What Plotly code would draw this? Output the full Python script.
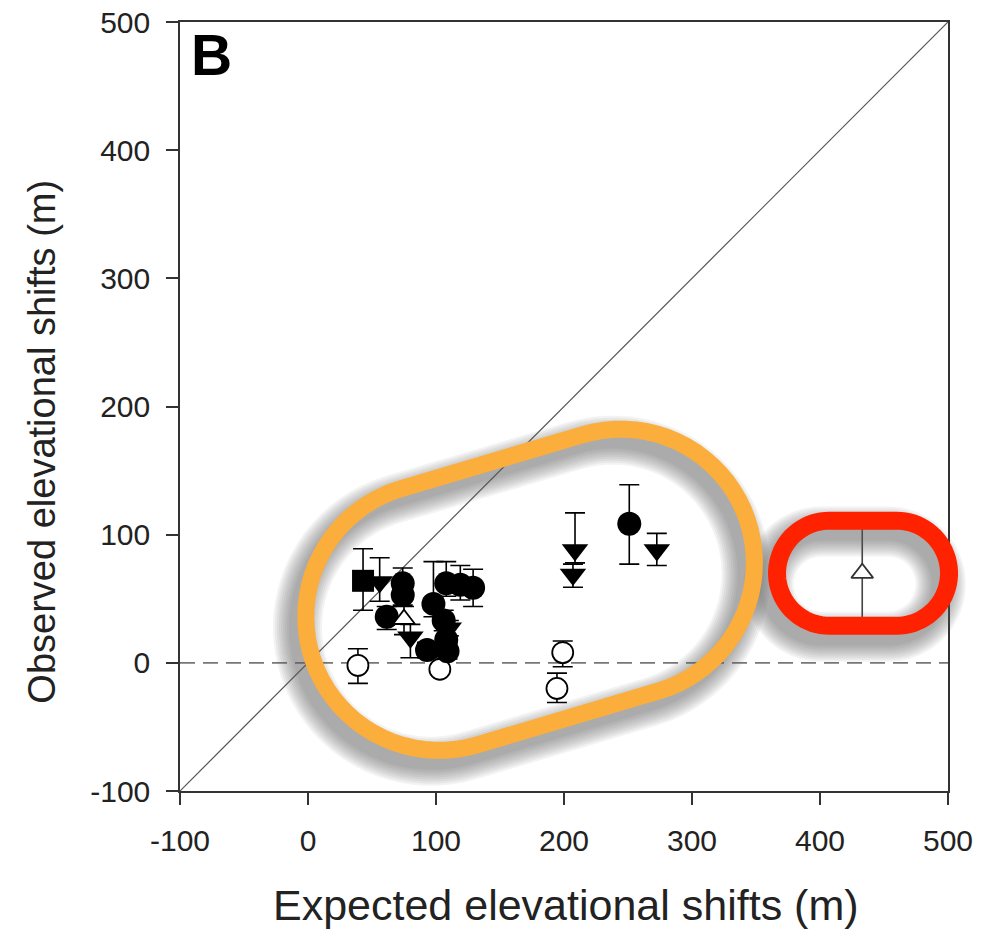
import numpy as np
import plotly.graph_objects as go

# ---- data ----
circ_x = [74, 74, 61.5, 98, 106, 108, 93, 109, 108, 119, 129, 251]
circ_y = [62, 53, 36, 46, 33, 18, 10, 9, 62, 61, 58.5, 108.6]
circ_ep = [12, 8, 8, 33, 8, 8, 6, 6, 17, 15, 14.5, 30.4]
circ_em = [10, 8, 10, 10, 8, 8, 6, 6, 10, 12, 14.5, 31.6]

tri_x = [56, 80, 110, 208.6, 207, 272.5]
tri_y = [63, 20, 27, 88, 69, 88]
tri_ep = [19, 10, 6, 29, 8, 13]
tri_em = [15, 16, 6, 10, 10, 12]

sq_x = [43]
sq_y = [64]
sq_ep = [25]
sq_em = [23]

ocirc_x = [39, 103, 199, 194.5]
ocirc_y = [-2, -5, 8, -20]
ocirc_ep = [13, 3, 9, 12]
ocirc_em = [14, 3, 11, 11]

otri_x = [75]
otri_y = [34]
otri_ep = [10]
otri_em = [12]

otri2_x = [433]
otri2_y = [70]
otri2_ep = [35]
otri2_em = [35]

axis_range = [-100, 500]
tick_vals = [-100, 0, 100, 200, 300, 400, 500]
tick_text = ["-100", "0", "100", "200", "300", "400", "500"]

W, H = 998, 929
ML, MR, MT, MB = 180, 50, 22, 138

fig = go.Figure()

# 1:1 line and zero line
fig.add_trace(go.Scatter(x=axis_range, y=axis_range, mode="lines",
                         line=dict(color="#555555", width=1.2), hoverinfo="skip", showlegend=False))
fig.add_trace(go.Scatter(x=axis_range, y=[0, 0], mode="lines",
                         line=dict(color="#777777", width=1.6, dash="15px,8px"), hoverinfo="skip", showlegend=False))


def eb(ep, em, color="black"):
    return dict(type="data", symmetric=False, array=ep, arrayminus=em,
                color=color, thickness=1.6, width=10)


fig.add_trace(go.Scatter(x=ocirc_x, y=ocirc_y, mode="markers", error_y=eb(ocirc_ep, ocirc_em),
                         marker=dict(symbol="circle", size=21, color="white",
                                     line=dict(color="black", width=1.8)), showlegend=False))
fig.add_trace(go.Scatter(x=otri2_x, y=otri2_y, mode="markers", error_y=eb(otri2_ep, otri2_em, "#444444"),
                         marker=dict(symbol="triangle-up", size=19, color="white",
                                     line=dict(color="#333333", width=1.8)), showlegend=False))
fig.add_trace(go.Scatter(x=sq_x, y=sq_y, mode="markers", error_y=eb(sq_ep, sq_em),
                         marker=dict(symbol="square", size=22, color="black"), showlegend=False))
fig.add_trace(go.Scatter(x=tri_x, y=tri_y, mode="markers", error_y=eb(tri_ep, tri_em),
                         marker=dict(symbol="triangle-down", size=23, color="black"), showlegend=False))
fig.add_trace(go.Scatter(x=circ_x, y=circ_y, mode="markers", error_y=eb(circ_ep, circ_em),
                         marker=dict(symbol="circle", size=24, color="black"), showlegend=False))
fig.add_trace(go.Scatter(x=otri_x, y=otri_y, mode="markers", error_y=eb(otri_ep, otri_em),
                         marker=dict(symbol="triangle-up", size=19, color="white",
                                     line=dict(color="black", width=1.8)), showlegend=False))


# ---- highlight capsules (annotation decoration) ----
def to_paper(x, y):
    span = axis_range[1] - axis_range[0]
    return (x - axis_range[0]) / span, (y - axis_range[0]) / span


def capsule_path(cx, cy, ang_deg, half_len, rad, dx=0.0, dy=0.0):
    a = np.deg2rad(ang_deg)
    ux, uy = np.cos(a), np.sin(a)
    rc = (cx + half_len * ux + dx, cy + half_len * uy + dy)
    lc = (cx - half_len * ux + dx, cy - half_len * uy + dy)
    pts = []
    for t in np.linspace(a - np.pi / 2, a + np.pi / 2, 40):
        pts.append((rc[0] + rad * np.cos(t), rc[1] + rad * np.sin(t)))
    for t in np.linspace(a + np.pi / 2, a + 3 * np.pi / 2, 40):
        pts.append((lc[0] + rad * np.cos(t), lc[1] + rad * np.sin(t)))
    s = ""
    for i, (x, y) in enumerate(pts):
        px, py = to_paper(x, y)
        s += ("M" if i == 0 else "L") + f"{px:.5f},{py:.5f} "
    return s + "Z"


capsules = [
    dict(c=(173.5, 57.0), ang=16.5, L=74.0, R=104.3, w=17, color="#FBAE3C"),
    dict(c=(433.6, 69.9), ang=0.0, L=26.2, R=41.0, w=18, color="#FF2200"),
]
shapes = []
for cap in capsules:
    for k in range(9):
        shapes.append(dict(type="path", xref="paper", yref="paper", layer="above",
                           path=capsule_path(cap["c"][0], cap["c"][1], cap["ang"], cap["L"], cap["R"], -6.5, -8.5),
                           line=dict(color="rgba(95,95,95,0.075)", width=cap["w"] + 4 * k)))
for cap in capsules:
    shapes.append(dict(type="path", xref="paper", yref="paper", layer="above",
                       path=capsule_path(cap["c"][0], cap["c"][1], cap["ang"], cap["L"], cap["R"]),
                       line=dict(color=cap["color"], width=cap["w"])))

font_family = "Liberation Sans, Arial, Helvetica, sans-serif"
axis_common = dict(range=axis_range, tickvals=tick_vals, ticktext=tick_text, ticks="outside",
                   ticklen=12, tickwidth=1.5, tickcolor="#333333", showline=True, linecolor="#333333",
                   linewidth=1.5, mirror=True, showgrid=False, zeroline=False, automargin=False,
                   ticklabelstandoff=10, ticklabeloverflow="allow",
                   tickfont=dict(size=30, color="#222222", family=font_family))

fig.update_layout(
    width=W, height=H, margin=dict(l=ML, r=MR, t=MT, b=MB),
    paper_bgcolor="white", plot_bgcolor="white",
    font=dict(family=font_family, color="#222222"),
    xaxis=dict(**axis_common),
    yaxis=dict(**axis_common),
    shapes=shapes,
    annotations=[
        dict(text="<b>B</b>", xref="paper", yref="paper", x=0.012, y=0.957,
             xanchor="left", yanchor="middle", showarrow=False,
             font=dict(size=57, color="black", family=font_family)),
        dict(text="Expected elevational shifts (m)", xref="paper", yref="paper", x=0.502, y=-0.148,
             xanchor="center", yanchor="middle", showarrow=False,
             font=dict(size=43, color="#222222", family=font_family)),
        dict(text="Observed elevational shifts (m)", xref="paper", yref="paper", x=-0.18, y=0.454,
             xanchor="center", yanchor="middle", showarrow=False, textangle=-90,
             font=dict(size=38, color="#222222", family=font_family)),
    ],
)

# remove the default page margin so the figure fills the window exactly
fig.write_html("out.html", config={"displayModeBar": False},
               post_script="document.body.style.margin='0';document.body.style.overflow='hidden';")
